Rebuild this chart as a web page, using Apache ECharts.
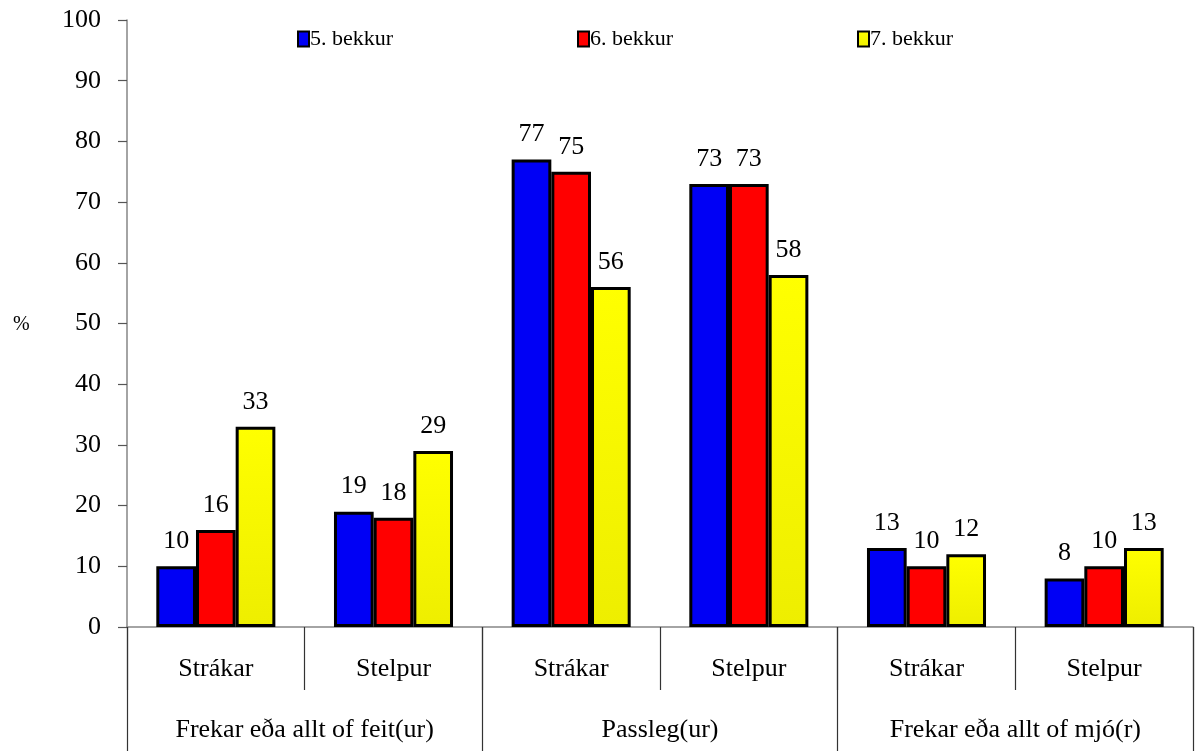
<!DOCTYPE html>
<html>
<head>
<meta charset="utf-8">
<script src="https://cdn.jsdelivr.net/npm/echarts@6/dist/echarts.min.js"></script>
<style>
  html, body { margin: 0; padding: 0; background: #fff; }
  #chart { width: 1195px; height: 751px; }
</style>
</head>
<body>
<div id="chart"></div>
<script>
// flokkar (innri og ytri)
var innerCats = ["Strákar", "Stelpur", "Strákar", "Stelpur", "Strákar", "Stelpur"];
var outerCats = ["Frekar eða allt of feit(ur)", "Passleg(ur)", "Frekar eða allt of mjó(r)"];
var seriesNames = ["5. bekkur", "6. bekkur", "7. bekkur"];
var bekkur5 = [10, 19, 77, 73, 13, 8];
var bekkur6 = [16, 18, 75, 73, 10, 10];
var bekkur7 = [33, 29, 56, 58, 12, 13];
var yTicks = [0, 100, 10]; // min, max, interval

var font = '"Liberation Serif", "Times New Roman", serif';
var chart = echarts.init(document.getElementById("chart"));

function makeSeries(name, data, color) {
  return {
    name: name,
    type: "bar",
    xAxisIndex: 0,
    barGap: "0%",
    barCategoryGap: "33%",
    data: data,
    itemStyle: {
      color: color,
      borderColor: "#000",
      borderWidth: 3
    },
    label: {
      show: true,
      position: "top",
      distance: 12,
      color: "#000",
      fontFamily: font,
      fontSize: 26
    }
  };
}

var yellow = new echarts.graphic.LinearGradient(0, 0, 0, 1, [
  { offset: 0, color: "#ffff00" },
  { offset: 1, color: "#eeee00" }
]);

var option = {
  animation: false,
  backgroundColor: "#fff",
  textStyle: { fontFamily: font },
  grid: { left: 127, right: 2, top: 20, bottom: 124, containLabel: false },
  legend: [
    { data: [seriesNames[0]], left: 292, top: 23 },
    { data: [seriesNames[1]], left: 572, top: 23 },
    { data: [seriesNames[2]], left: 852, top: 23 }
  ].map(function (l) {
    l.icon = "rect";
    l.itemWidth = 11;
    l.itemHeight = 15;
    l.itemGap = 0;
    l.textStyle = { fontFamily: font, fontSize: 22, color: "#000", padding: [0, 0, 0, -4] };
    return l;
  }),
  graphic: [
    {
      type: "text",
      left: 13,
      top: 315,
      style: { text: "%", fontFamily: font, fontSize: 20, fill: "#000" }
    }
  ],
  xAxis: [
    {
      type: "category",
      data: innerCats,
      position: "bottom",
      axisLine: { show: true, lineStyle: { color: "#868686", width: 1.5 } },
      axisTick: { show: true, interval: 0, length: 63, lineStyle: { color: "#333", width: 1.2 } },
      axisLabel: { interval: 0, margin: 29, fontFamily: font, fontSize: 26, color: "#000" },
      splitLine: { show: false }
    },
    {
      type: "category",
      data: outerCats,
      position: "bottom",
      axisLine: { show: false },
      axisTick: { show: true, interval: 0, length: 130, lineStyle: { color: "#333", width: 1.2 } },
      axisLabel: { interval: 0, margin: 90, fontFamily: font, fontSize: 26, color: "#000" },
      splitLine: { show: false }
    }
  ],
  yAxis: {
    type: "value",
    min: yTicks[0],
    max: yTicks[1],
    interval: yTicks[2],
    axisLine: { show: true, lineStyle: { color: "#868686", width: 1.5 } },
    axisTick: { show: true, length: 9, lineStyle: { color: "#555", width: 1.2 } },
    axisLabel: { margin: 26, fontFamily: font, fontSize: 26, color: "#000" },
    splitLine: { show: false }
  },
  series: [
    makeSeries(seriesNames[0], bekkur5, "#0000f5"),
    makeSeries(seriesNames[1], bekkur6, "#ff0000"),
    makeSeries(seriesNames[2], bekkur7, yellow)
  ]
};

chart.setOption(option);
</script>
</body>
</html>
